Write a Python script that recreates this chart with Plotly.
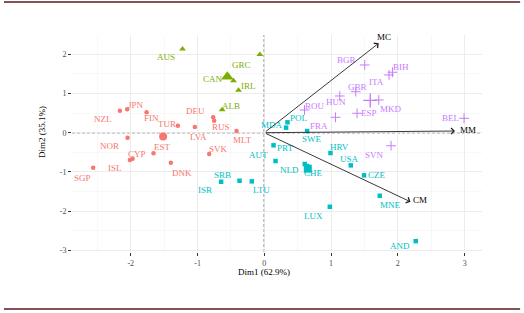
import plotly.graph_objects as go
import numpy as np

# ---- data ----
g1_names = ["NZL", "JPN", "FIN", "TUR", "LVA", "NOR", "EST", "CYP", "ISL", "SGP", "DNK", "DEU", "RUS", "MLT", "SVK"]
g1_x = [-2.163, -2.054, -1.763, -1.295, -1.040, -2.048, -1.659, -1.973, -2.013, -2.563, -1.400, -0.766, -0.751, -0.416, -0.826]
g1_y = [0.561, 0.597, 0.520, 0.179, 0.145, -0.128, -0.526, -0.663, -0.696, -0.893, -0.765, 0.393, 0.306, 0.043, -0.543]

g2_names = ["AUS", "GRC", "CAN", "IRL", "ALB"]
g2_x = [-1.225, -0.067, -0.461, -0.386, -0.632]
g2_y = [2.135, 1.990, 1.327, 1.082, 0.587]

g3_names = ["MDA", "POL", "SWE", "PRT", "AUT", "NLD", "CHE", "HRV", "USA", "CZE", "ISR", "SRB", "LTU", "LUX", "MNE", "AND"]
g3_x = [0.326, 0.347, 0.641, 0.138, 0.168, 0.606, 0.641, 0.991, 1.295, 1.494, -0.647, -0.371, -0.187, 0.981, 1.729, 2.268]
g3_y = [0.128, 0.265, 0.043, -0.321, -0.722, -0.798, -0.849, -0.518, -0.832, -1.087, -1.250, -1.224, -1.240, -1.888, -1.607, -2.763]

g4_names = ["ROU", "FRA", "HUN", "GBR", "ESP", "BGR", "MKD", "ITA", "BIH", "BEL", "SVN"]
g4_x = [0.602, 1.066, 1.130, 1.370, 1.389, 1.504, 1.714, 1.868, 1.919, 2.991, 1.898]
g4_y = [0.579, 0.393, 0.936, 1.046, 0.495, 1.727, 0.834, 1.472, 1.541, 0.367, -0.332]

var_names = ["MC", "MM", "CM"]
var_x = [1.714, 2.856, 2.189]
var_y = [2.281, 0.043, -1.760]

x_ticks = [-2, -1, 0, 1, 2, 3]
y_ticks = [-3, -2, -1, 0, 1, 2]
x_title = "Dim1 (62.9%)"
y_title = "Dim2 (35.1%)"

# ---- style: label pixel offsets (dx right, dy down) ----
label_off = {
    "NZL": (-17, 8), "JPN": (9, -4), "FIN": (5, 6), "TUR": (-11, -2), "LVA": (4, 10),
    "NOR": (-18, 8), "EST": (9, -6), "CYP": (4, -5), "ISL": (-15, 8), "SGP": (-11, 10),
    "DNK": (11, 10), "DEU": (-18, -6), "RUS": (7, 6), "MLT": (6, 9), "SVK": (9, -5),
    "AUS": (-17, 8), "GRC": (-18, 10), "CAN": (-21, -2), "IRL": (10, -4), "ALB": (9, -4),
    "MDA": (-14, -3), "POL": (11, -4), "SWE": (5, 8), "PRT": (11, 3), "AUT": (-17, -6),
    "NLD": (-15, 6), "CHE": (6, 7), "HRV": (9, -6), "USA": (-1, -6), "CZE": (13, 0),
    "ISR": (-16, 8), "SRB": (-17, -6), "LTU": (10, 9), "LUX": (-16, 9), "MNE": (11, 9),
    "AND": (-16, 5),
    "ROU": (10, -4), "FRA": (-17, 9), "HUN": (-4, 6), "GBR": (2, -5), "ESP": (12, 0),
    "BGR": (-18, -5), "MKD": (12, 9), "ITA": (-13, 7), "BIH": (9, -5), "BEL": (-14, 0),
    "SVN": (-17, 9),
    "MC": (5, -6), "MM": (13, -1), "CM": (10, -2),
}

FONT = "Liberation Serif"
groups = [
    (g1_names, g1_x, g1_y, "#F8766D", "circle", 4.5, 8, 0),
    (g2_names, g2_x, g2_y, "#7CAE00", "triangle-up", 6, 11, 0),
    (g3_names, g3_x, g3_y, "#00BFC4", "square", 4.5, 8, 0),
    (g4_names, g4_x, g4_y, "#C77CFF", "cross-thin", 7, 10, 1),
]

fig = go.Figure()
annotations = []

for names, xs, ys, col, sym, sz, bigsz, lw in groups:
    fig.add_trace(go.Scatter(
        x=xs, y=ys, mode="markers",
        marker=dict(symbol=sym, size=sz, color=col, line=dict(color=col, width=lw)),
        showlegend=False, hoverinfo="skip"))
    # group centroid
    fig.add_trace(go.Scatter(
        x=[float(np.mean(xs))], y=[float(np.mean(ys))], mode="markers",
        marker=dict(symbol=sym, size=bigsz, color=col, line=dict(color=col, width=lw * 1.4)),
        showlegend=False, hoverinfo="skip"))
    for n, xv, yv in zip(names, xs, ys):
        dx, dy = label_off.get(n, (0, -8))
        annotations.append(dict(x=xv, y=yv, xref="x", yref="y", text=n, showarrow=False,
                                xshift=dx, yshift=-dy,
                                font=dict(family=FONT, size=9, color=col)))

# variable arrows
for n, xv, yv in zip(var_names, var_x, var_y):
    annotations.append(dict(x=xv, y=yv, ax=0, ay=0, xref="x", yref="y", axref="x", ayref="y",
                            text="", showarrow=True, arrowhead=4, arrowsize=1.3,
                            arrowwidth=0.9, arrowcolor="#222222"))
    dx, dy = label_off[n]
    annotations.append(dict(x=xv, y=yv, xref="x", yref="y", text=n, showarrow=False,
                            xshift=dx, yshift=-dy,
                            font=dict(family=FONT, size=9, color="black")))

# axis titles
annotations.append(dict(x=0.468, y=-0.092, xref="paper", yref="paper", text=x_title,
                        showarrow=False, xanchor="center", yanchor="middle",
                        font=dict(family=FONT, size=9, color="black")))
annotations.append(dict(x=-0.073, y=0.553, xref="paper", yref="paper", text=y_title,
                        showarrow=False, xanchor="center", yanchor="middle", textangle=-90,
                        font=dict(family=FONT, size=9, color="black")))

shapes = [
    # dashed reference lines at 0
    dict(type="line", xref="x", yref="paper", x0=0, x1=0, y0=0, y1=1,
         line=dict(color="black", width=1.1, dash="3px,2px"), layer="below"),
    dict(type="line", xref="paper", yref="y", x0=0, x1=1, y0=0, y1=0,
         line=dict(color="black", width=0.9, dash="3px,2px"), layer="below"),
    # page border lines (dark red)
    dict(type="line", xref="paper", yref="paper", x0=-0.166, x1=1.093, y0=1.152, y1=1.152,
         line=dict(color="#5b1a1f", width=1.5)),
    dict(type="line", xref="paper", yref="paper", x0=-0.166, x1=1.093, y0=-0.263, y1=-0.263,
         line=dict(color="#5b1a1f", width=1.5)),
]

axis_common = dict(
    showgrid=True, gridcolor="#E8E8E8", gridwidth=0.8,
    zeroline=False, showline=False, automargin=False,
    ticks="outside", ticklen=3, tickwidth=1, tickcolor="#333333",
    tickfont=dict(family=FONT, size=8, color="#4D4D4D"),
    minor=dict(showgrid=True, gridcolor="#F3F3F3", gridwidth=0.6, dtick=0.5),
)

fig.update_layout(
    width=524, height=313,
    margin=dict(l=72, r=42, t=35, b=61),
    plot_bgcolor="white", paper_bgcolor="white",
    font=dict(family=FONT),
    hovermode=False,
    xaxis=dict(range=[-2.88, 3.26], tickvals=x_ticks, ticktext=[str(v) for v in x_ticks],
               **axis_common),
    yaxis=dict(range=[-3.04, 2.49], tickvals=y_ticks, ticktext=[str(v) for v in y_ticks],
               **axis_common),
    annotations=annotations,
    shapes=shapes,
)

fig.write_html("out.html",
               config={"displayModeBar": False, "staticPlot": True},
               post_script="document.body.style.margin='0px';document.body.style.overflow='hidden';")
